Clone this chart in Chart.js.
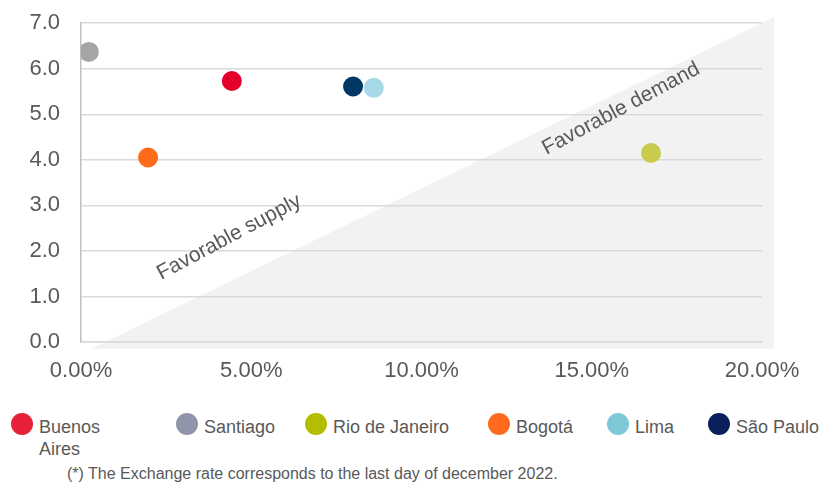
<!DOCTYPE html>
<html>
<head>
<meta charset="utf-8">
<script src="https://cdn.jsdelivr.net/npm/chart.js@4/dist/chart.umd.min.js"></script>
<style>
  body { margin: 0; background: #fff; font-family: "Liberation Sans", Arial, sans-serif; }
  #wrap { position: relative; width: 824px; height: 482px; overflow: hidden; }
  #box { position: absolute; left: 0; top: -11px; width: 824px; height: 411px; }
  .item { position: absolute; top: 411px; color: #595959; font-size: 18px; line-height: 22px; }
  .dot { position: absolute; left: 0; top: 2px; width: 22px; height: 22px; border-radius: 50%; }
  .lbl { position: absolute; left: 28px; top: 5px; white-space: nowrap; }
  #note { position: absolute; left: 67px; top: 465px; font-size: 16px; line-height: 18px; color: #595959; white-space: nowrap; }
</style>
</head>
<body>
<div id="wrap">
  <div id="box"><canvas id="myChart"></canvas></div>
  <div id="legend"></div>
  <div id="note">(*) The Exchange rate corresponds to the last day of december 2022.</div>
</div>
<script>
// Data
const cities = ["Buenos Aires", "Santiago", "Rio de Janeiro", "Bogotá", "Lima", "São Paulo"];
const growth = [4.43, 0.23, 16.74, 1.97, 8.60, 7.99];   // x, %
const rate = [5.73, 6.37, 4.15, 4.05, 5.58, 5.61];      // y
const pointColors = ["#E4002B", "#A5A5A5", "#C9CB4F", "#FF6B1A", "#A6D9E5", "#003764"];
const legendColors = ["#E8213A", "#9095AA", "#B5BD00", "#FF6A1E", "#7EC8D8", "#0A1F5C"];
const xTicks = [0, 5, 10, 15, 20];
const yTicks = [0, 1, 2, 3, 4, 5, 6, 7];
// shaded region (triangle) corners
const regionX = [0.3, 20.35, 20.35];
const regionY = [-0.15, 7.13, -0.15];
const regionLabels = ["Favorable supply", "Favorable demand"];
const regionLabelX = [4.35, 15.86];
const regionLabelY = [2.3, 5.12];

// legend
const legendLeft = [11, 176, 305, 488, 607, 708];
const legendEl = document.getElementById("legend");
cities.forEach((c, i) => {
  const d = document.createElement("div");
  d.className = "item";
  d.style.left = legendLeft[i] + "px";
  const txt = c === "Buenos Aires" ? "Buenos<br>Aires" : c;
  d.innerHTML = '<span class="dot" style="background:' + legendColors[i] + '"></span><span class="lbl">' + txt + '</span>';
  legendEl.appendChild(d);
});

const regionPlugin = {
  id: "region",
  beforeDraw(chart) {
    const { ctx, scales } = chart;
    ctx.save();
    ctx.fillStyle = "#F2F2F2";
    ctx.beginPath();
    regionX.forEach((x, i) => {
      const px = scales.x.getPixelForValue(x), py = scales.y.getPixelForValue(regionY[i]);
      if (i === 0) ctx.moveTo(px, py); else ctx.lineTo(px, py);
    });
    ctx.closePath();
    ctx.fill();
    ctx.restore();
  },
  afterDatasetsDraw(chart) {
    const { ctx, scales } = chart;
    ctx.save();
    ctx.fillStyle = "#595959";
    ctx.font = '21px "Liberation Sans", Arial, sans-serif';
    ctx.textAlign = "center";
    ctx.textBaseline = "middle";
    regionLabels.forEach((t, i) => {
      ctx.save();
      ctx.translate(scales.x.getPixelForValue(regionLabelX[i]), scales.y.getPixelForValue(regionLabelY[i]));
      ctx.rotate(-28 * Math.PI / 180);
      ctx.fillText(t, 0, 0);
      ctx.restore();
    });
    ctx.restore();
  }
};

const myChartRef = document.getElementById("myChart").getContext("2d");
new Chart(myChartRef, {
  type: "scatter",
  data: {
    datasets: cities.map((c, i) => ({
      label: c,
      data: [{ x: growth[i], y: rate[i] }],
      backgroundColor: pointColors[i],
      borderWidth: 0,
      pointRadius: 10,
      pointHoverRadius: 10
    }))
  },
  options: {
    responsive: true,
    maintainAspectRatio: false,
    animation: false,
    layout: { padding: { left: 0, right: 62, top: 10, bottom: 0 } },
    plugins: { legend: { display: false }, tooltip: { enabled: false } },
    scales: {
      x: {
        min: 0, max: 20,
        afterBuildTicks: s => { s.ticks = xTicks.map(v => ({ value: v })); },
        afterFit: s => { s.height = 58; },
        grid: { display: false, drawTicks: false },
        border: { display: true, color: "#D9D9D9", width: 1.5 },
        ticks: {
          padding: 16, color: "#595959",
          font: { family: '"Liberation Sans", Arial, sans-serif', size: 22 },
          callback: v => v.toFixed(2) + "%"
        }
      },
      y: {
        min: 0, max: 7,
        afterBuildTicks: s => { s.ticks = yTicks.map(v => ({ value: v })); },
        afterFit: s => { s.width = 81; },
        grid: { color: "#D9D9D9", lineWidth: 1.5, drawTicks: false },
        border: { display: true, color: "#BFBFBF", width: 1.5 },
        ticks: {
          padding: 21, color: "#595959",
          font: { family: '"Liberation Sans", Arial, sans-serif', size: 22 },
          callback: v => v.toFixed(1)
        }
      }
    }
  },
  plugins: [regionPlugin]
});
</script>
</body>
</html>
